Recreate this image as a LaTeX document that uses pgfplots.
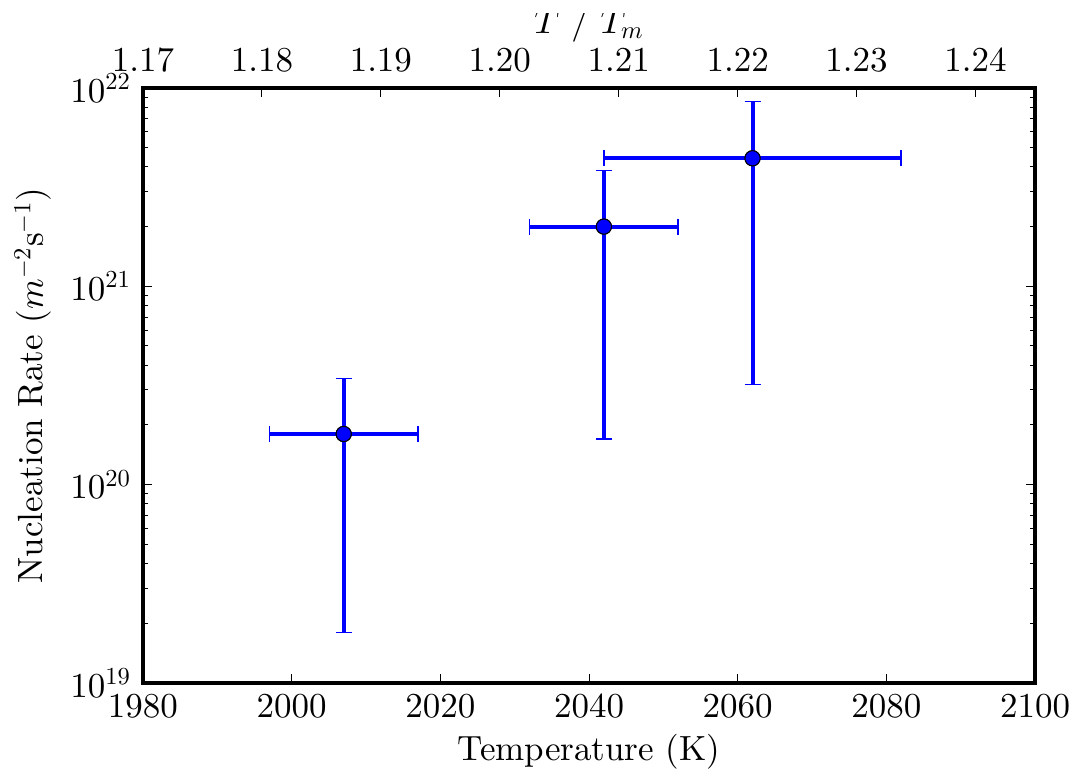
\documentclass[border=0pt]{standalone}
\usepackage{pgfplots}
\pgfplotsset{compat=1.18}
% use the 10pt design of Computer/Latin Modern at every size
\DeclareFontShape{TU}{lmr}{m}{n}{<-> "[lmroman10-regular]"}{}
\DeclareFontShape{OT1}{cmr}{m}{n}{<-> cmr10}{}
\DeclareFontShape{OML}{cmm}{m}{it}{<-> cmmi10}{}
\begin{document}
\fontsize{17.5}{21}\selectfont
\begin{tikzpicture}
% main axis: temperature vs nucleation rate
\begin{axis}[
  at={(0,0)}, anchor=south west,
  scale only axis, width=446pt, height=297.5pt,
  xmin=1980, xmax=2100,
  ymode=log, ymin=1e19, ymax=1e22,
  xtick={1980,2000,2020,2040,2060,2080,2100},
  ytick={1e19,1e20,1e21,1e22},
  minor ytick={2e19,3e19,4e19,5e19,6e19,7e19,8e19,9e19,
               2e20,3e20,4e20,5e20,6e20,7e20,8e20,9e20,
               2e21,3e21,4e21,5e21,6e21,7e21,8e21,9e21},
  xtick pos=bottom, ytick pos=both,
  tick align=inside,
  major tick length=4.5pt, minor tick length=2.5pt,
  every tick/.style={black, line width=0.5pt},
  axis line style={line width=2pt},
  xticklabel style={/pgf/number format/set thousands separator={}},
  font=\fontsize{17.5}{21}\selectfont,
  xlabel={Temperature (K)},
  ylabel={Nucleation Rate ($m^{-2}\mathrm{s}^{-1}$)},
  xlabel style={at={(axis description cs:0.5,-0.1311)}, anchor=base},
  ylabel style={at={(axis description cs:-0.1121,0.5)}, anchor=base},
]
\addplot+[only marks, blue, mark=*, mark size=3.8pt,
  mark options={fill=blue, draw=black, line width=0.5pt},
  error bars/.cd,
    x dir=both, x explicit,
    y dir=both, y explicit,
    error bar style={line width=2pt, blue},
    error mark options={line width=0.75pt, mark size=4pt, blue, rotate=90},
] coordinates {
  (2007,1.80e20) +- (10,1.62e20)
  (2042,2.00e21) +- (10,1.83e21)
  (2062,4.42e21) +- (20,4.10e21)
};
\addplot[only marks, mark=*, mark size=3.8pt,
  mark options={fill=blue, draw=black, line width=0.5pt}] coordinates {
  (2007,1.80e20) (2042,2.00e21) (2062,4.42e21)
};
\end{axis}
% secondary top axis: reduced temperature
\begin{axis}[
  at={(0,0)}, anchor=south west,
  scale only axis, width=446pt, height=297.5pt,
  xmin=1.17, xmax=1.245, ymin=0, ymax=1,
  ytick=\empty,
  xtick={1.17,1.18,1.19,1.20,1.21,1.22,1.23,1.24},
  xtick pos=top, xticklabel pos=top,
  tick align=inside, major tick length=4.5pt,
  every tick/.style={black, line width=0.5pt},
  axis line style={line width=2pt},
  xticklabel style={/pgf/number format/.cd, fixed, fixed zerofill, precision=2, /tikz/.cd, yshift=2pt},
  font=\fontsize{17.5}{21}\selectfont,
  xlabel={$T\ /\ T_m$},
  xlabel style={at={(axis description cs:0.5,1.0924)}, anchor=base},
]
\end{axis}
\fill[white] (-71.5pt,335pt) rectangle (464pt,341.5pt);
\pgfresetboundingbox
\useasboundingbox (-71.5pt,-45pt) rectangle (464pt,341.5pt);
\end{tikzpicture}
\end{document}
